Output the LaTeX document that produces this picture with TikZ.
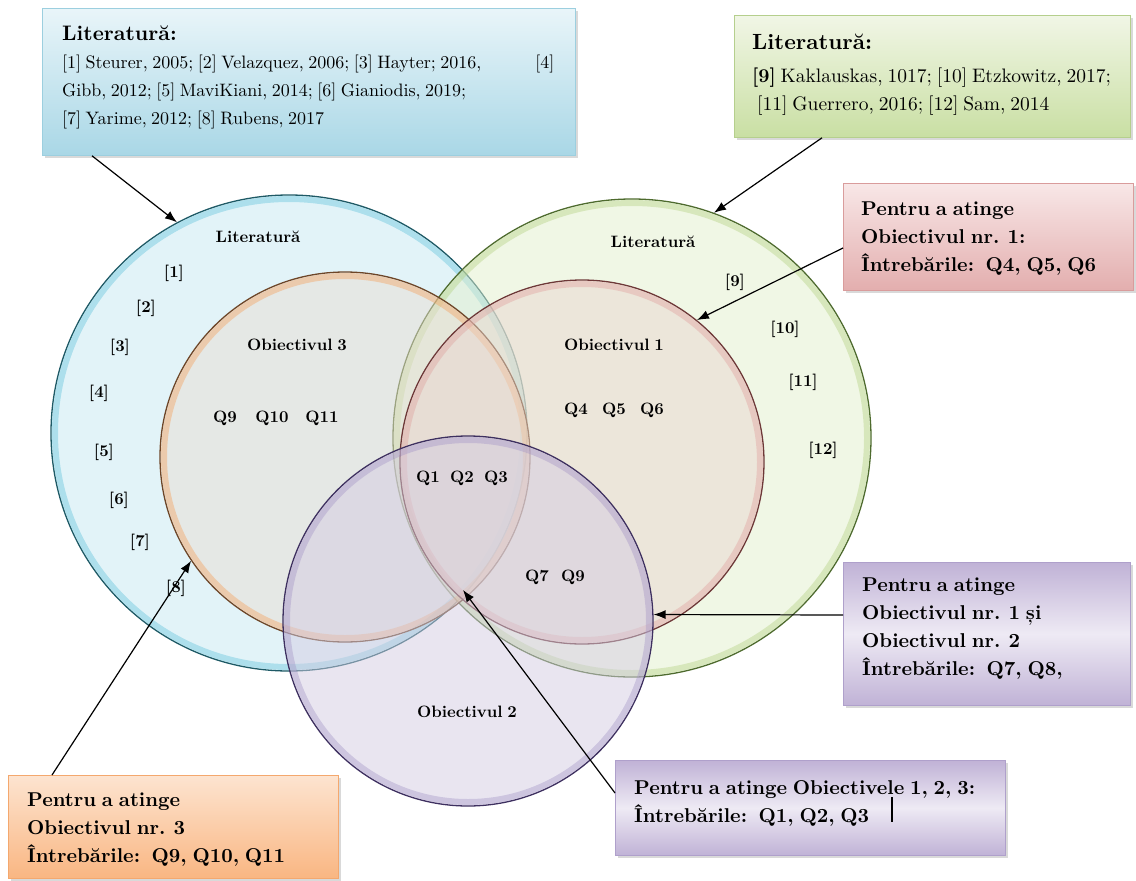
\documentclass[tikz,border=0pt]{standalone}
\usepackage{fontspec}
\setmainfont{lmroman10-regular.otf}[BoldFont=lmroman10-bold.otf, WordSpace=0.75]
\usepackage{tikz}
\usetikzlibrary{shadows, arrows.meta}

\definecolor{bluefill}{HTML}{C6E8F2}
\definecolor{bluerim}{HTML}{5DC0DA}
\definecolor{blueedge}{HTML}{1E5A66}
\definecolor{greenfill}{HTML}{E2EFCC}
\definecolor{greenrim}{HTML}{B2D17F}
\definecolor{greenedge}{HTML}{4E6B2E}
\definecolor{orangefill}{HTML}{E9DCD2}
\definecolor{orangerim}{HTML}{F5A05A}
\definecolor{orangeedge}{HTML}{6E4628}
\definecolor{pinkfill}{HTML}{E9D6CF}
\definecolor{pinkrim}{HTML}{E0A09C}
\definecolor{pinkedge}{HTML}{6E3838}
\definecolor{purplefill}{HTML}{D3CCE2}
\definecolor{purplerim}{HTML}{A494C6}
\definecolor{purpleedge}{HTML}{3E3060}
\definecolor{blueboxtop}{HTML}{E9F5F9}
\definecolor{blueboxbot}{HTML}{A9D7E6}
\definecolor{blueboxline}{HTML}{9CCFDF}
\definecolor{greenboxtop}{HTML}{F1F6E6}
\definecolor{greenboxbot}{HTML}{C9DFA3}
\definecolor{greenboxline}{HTML}{B5CF8D}
\definecolor{pinkboxtop}{HTML}{F8E7E7}
\definecolor{pinkboxbot}{HTML}{E3AEAE}
\definecolor{pinkboxline}{HTML}{D99C9C}
\definecolor{purpleboxout}{HTML}{C0B2D6}
\definecolor{purpleboxmid}{HTML}{EEEAF4}
\definecolor{purpleboxline}{HTML}{AFA0CB}
\definecolor{orangeboxtop}{HTML}{FDE4D0}
\definecolor{orangeboxbot}{HTML}{F9B682}
\definecolor{orangeboxline}{HTML}{F4A86E}

\begin{document}
\begin{tikzpicture}[x=1pt, y=-1pt,
  ring/.style={circle, inner sep=0pt, line width=1.3pt, fill opacity=0.5},
  rim/.style={line width=6pt, opacity=0.4},
  lbl/.style={font=\fontsize{16.5}{18}\selectfont\bfseries},
  infobox/.style={draw, line width=0.8pt, anchor=north west, inner sep=0pt,
    drop shadow={opacity=0.3, shadow xshift=3pt, shadow yshift=-3pt}},
  purplebox/.style={infobox, draw=purpleboxline, top color=purpleboxout,
    bottom color=purpleboxout, middle color=purpleboxmid},
  boxtext/.style={anchor=north west, inner sep=0pt, align=left,
    font=\fontsize{20}{28}\selectfont\bfseries},
  littext/.style={anchor=north west, inner sep=0pt, align=left,
    font=\fontsize{18}{28}\selectfont},
  pointer/.style={-{Latex[length=12pt, width=9pt]}, line width=1.2pt}]
\useasboundingbox (0,0) rectangle (1136,881);

\node[ring, draw=blueedge, fill=bluefill, minimum size=476pt] (blueC) at (289,433) {};
\draw[rim, bluerim] (blueC.center) circle[radius=234];
\node[ring, draw=greenedge, fill=greenfill, minimum size=478pt] (greenC) at (632,438) {};
\draw[rim, greenrim] (greenC.center) circle[radius=235];
\node[ring, draw=orangeedge, fill=orangefill, minimum size=370pt] (orangeC) at (345,457) {};
\draw[rim, orangerim] (orangeC.center) circle[radius=181];
\node[ring, draw=pinkedge, fill=pinkfill, minimum size=364pt] (pinkC) at (582,462) {};
\draw[rim, pinkrim] (pinkC.center) circle[radius=178];
\node[ring, draw=purpleedge, fill=purplefill, minimum size=370pt] (purpleC) at (468,621) {};
\draw[rim, purplerim] (purpleC.center) circle[radius=181];

\node[lbl] (litL) at (258,237) {Literatură};
\node[lbl] (ref1) at (174,273) {[1]};
\node[lbl] (ref2) at (146,308) {[2]};
\node[lbl] (ref3) at (120,347) {[3]};
\node[lbl] (ref4) at (99,393) {[4]};
\node[lbl] (ref5) at (104,452) {[5]};
\node[lbl] (ref6) at (119,500) {[6]};
\node[lbl] (ref7) at (140,542) {[7]};
\node[lbl] (ref8) at (176,588) {[8]};
\node[lbl] (obj3) at (297,345) {Obiectivul 3};
\node[lbl] (q9a) at (225,418) {Q9};
\node[lbl] (q10) at (272,418) {Q10};
\node[lbl] (q11) at (322,418) {Q11};
\node[lbl] (litR) at (653,242) {Literatură};
\node[lbl] (ref9) at (735,282) {[9]};
\node[lbl] (ref10) at (785,329) {[10]};
\node[lbl] (ref11) at (803,382) {[11]};
\node[lbl] (ref12) at (823,450) {[12]};
\node[lbl] (obj1) at (614,345) {Obiectivul 1};
\node[lbl] (q4) at (576,410) {Q4};
\node[lbl] (q5) at (614,410) {Q5};
\node[lbl] (q6) at (652,410) {Q6};
\node[lbl] (q1) at (428,478) {Q1};
\node[lbl] (q2) at (462,478) {Q2};
\node[lbl] (q3) at (496,478) {Q3};
\node[lbl] (q7) at (537,577) {Q7};
\node[lbl] (q9b) at (573,577) {Q9};
\node[lbl] (obj2) at (467,712) {Obiectivul 2};

\node[infobox, draw=blueboxline, top color=blueboxtop, bottom color=blueboxbot,
  minimum width=533pt, minimum height=147pt] (litA) at (42,8) {};
\node[littext] (litAtext) at (62,26) {{\bfseries\fontsize{21}{28}\selectfont Literatură:}\\
  {}[1] Steurer, 2005; [2] Velazquez, 2006; [3] Hayter; 2016,\hspace{54pt}[4]\\
  Gibb, 2012; [5] MaviKiani, 2014; [6] Gianiodis, 2019;\\
  {}[7] Yarime, 2012; [8] Rubens, 2017};
\node[infobox, draw=greenboxline, top color=greenboxtop, bottom color=greenboxbot,
  minimum width=396pt, minimum height=122pt] (litB) at (734,15) {};
\node[littext, font=\fontsize{19.5}{28}\selectfont] (litBtext) at (752,34) {{\bfseries\fontsize{22}{28}\selectfont Literatură:}\\[4.5pt]
  \textbf{[9]} Kaklauskas, 1017; [10] Etzkowitz, 2017;\\
  \hspace*{5pt}[11] Guerrero, 2016; [12] Sam, 2014};
\node[infobox, draw=pinkboxline, top color=pinkboxtop, bottom color=pinkboxbot,
  minimum width=290pt, minimum height=107pt] (goal1) at (843,183) {};
\node[boxtext] (goal1text) at (861,202) {Pentru a atinge\\ Obiectivul nr. 1:\\ Întrebările:\ \ Q4, Q5, Q6};
\node[purplebox, minimum width=287pt, minimum height=143pt] (goal12) at (843,562) {};
\node[boxtext] (goal12text) at (862,578) {Pentru a atinge\\ Obiectivul nr. 1 și\\ Obiectivul nr. 2\\
  Întrebările:\ \ Q7, Q8,};
\node[purplebox, minimum width=390pt, minimum height=95pt] (goal123) at (615,760) {};
\node[boxtext] (goal123text) at (634,780) {Pentru a atinge Obiectivele 1, 2, 3:\\ Întrebările:\ \ Q1, Q2, Q3};
\draw[line width=1.2pt] (892,797) -- (892,822);
\node[infobox, draw=orangeboxline, top color=orangeboxtop, bottom color=orangeboxbot,
  minimum width=330pt, minimum height=103pt] (goal3) at (8,775) {};
\node[boxtext] (goal3text) at (27,793) {Pentru a atinge\\ Obiectivul nr. 3\\ Întrebările:\ \ Q9, Q10, Q11};

\coordinate (tip123) at (463,590);
\draw[pointer] ([xshift=50pt]litA.south west) -- (blueC.118);
\draw[pointer] ([xshift=88pt]litB.south west) -- (greenC.70);
\draw[pointer] ([yshift=-65pt]goal1.north west) -- (pinkC.51);
\draw[pointer] ([yshift=-53pt]goal12.north west) -- (purpleC.2);
\draw[pointer] ([yshift=-33pt]goal123.north west) -- (tip123);
\draw[pointer] ([xshift=44pt]goal3.north west) -- (orangeC.214);
\end{tikzpicture}
\end{document}
